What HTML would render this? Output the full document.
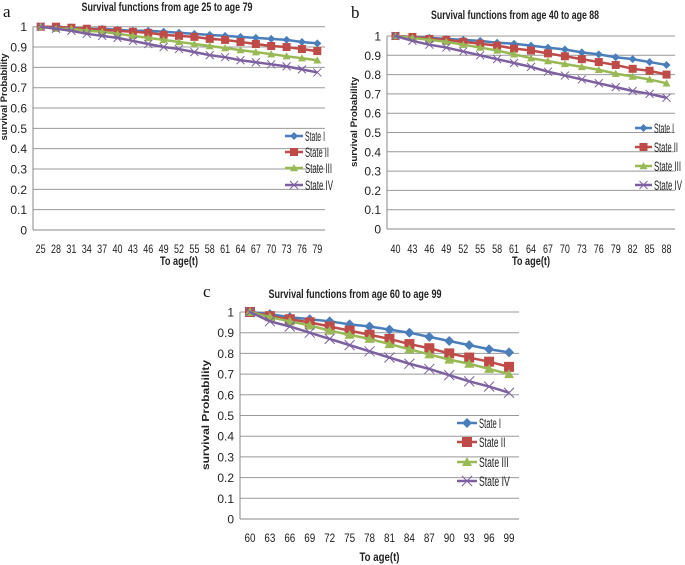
<!DOCTYPE html>
<html><head><meta charset="utf-8"><style>
html,body{margin:0;padding:0;background:#fff;}
svg{display:block;font-family:"Liberation Sans",sans-serif;}
</style></head>
<body>
<svg id="fig" width="685" height="565" viewBox="0 0 685 565"></svg>
<script>
const catsA = [25,28,31,34,37,40,43,46,49,52,55,58,61,64,67,70,73,76,79];
const a1 = [1,1,.995,.99,.99,.985,.98,.98,.975,.97,.965,.96,.955,.95,.945,.94,.935,.925,.918];
const a2 = [1,1,.995,.99,.985,.98,.975,.97,.96,.955,.95,.94,.935,.925,.915,.905,.9,.89,.88];
const a3 = [1,.99,.99,.98,.975,.965,.955,.945,.935,.925,.915,.905,.895,.885,.875,.865,.855,.845,.835];
const a4 = [1,.99,.98,.965,.955,.945,.93,.915,.9,.89,.875,.86,.85,.835,.825,.815,.805,.79,.775];
const catsB = [40,43,46,49,52,55,58,61,64,67,70,73,76,79,82,85,88];
const b1 = [1,.995,.99,.985,.98,.975,.965,.96,.95,.94,.93,.915,.905,.89,.88,.865,.85];
const b2 = [1,.995,.985,.98,.97,.96,.95,.935,.925,.91,.895,.88,.865,.85,.83,.82,.8];
const b3 = [1,.99,.98,.97,.955,.94,.925,.905,.885,.87,.855,.84,.825,.805,.79,.775,.755];
const b4 = [1,.975,.955,.94,.92,.9,.88,.86,.84,.815,.795,.775,.755,.735,.715,.7,.68];
const catsC = [60,63,66,69,72,75,78,81,84,87,90,93,96,99];
const c1 = [1,.99,.975,.965,.955,.94,.93,.915,.9,.88,.86,.84,.82,.805];
const c2 = [1,.98,.965,.95,.93,.91,.89,.87,.845,.825,.8,.78,.76,.735];
const c3 = [1,.975,.955,.935,.91,.89,.87,.845,.82,.795,.77,.75,.725,.7];
const c4 = [1,.955,.93,.9,.87,.84,.81,.78,.75,.725,.695,.665,.64,.61];
const yTicks = [0,0.1,0.2,0.3,0.4,0.5,0.6,0.7,0.8,0.9,1];
const seriesNames = ["State I","State II","State III","State IV"];
const colors = ["#4a7ebb","#be4b48","#98b954","#7d60a0"];

const NS = "http://www.w3.org/2000/svg";
const svg = document.getElementById("fig");
function mk(tag, attrs, parent){const e=document.createElementNS(NS,tag);for(const k in attrs)e.setAttribute(k,attrs[k]);(parent||svg).appendChild(e);return e;}

function marker(g, kind, x, y, col, s){
  let e;
  if(kind===0) e=mk("polygon",{points:`${x},${y-s} ${x+s},${y} ${x},${y+s} ${x-s},${y}`,fill:col},g);
  else if(kind===1) e=mk("rect",{x:x-s,y:y-s,width:2*s,height:2*s,fill:col},g);
  else if(kind===2) e=mk("polygon",{points:`${x},${y-s} ${x+s},${y+s*0.8} ${x-s},${y+s*0.8}`,fill:col},g);
  else { e=mk("path",{d:`M${x-s} ${y-s}L${x+s} ${y+s}M${x+s} ${y-s}L${x-s} ${y+s}`,stroke:col,"stroke-width":1,fill:"none"},g); }
  return e;
}
const legW = [20,24,27,28];

function chart(cfg){
  const g = mk("g",{});
  
  
  const {left,right,top,bottom,cats,series} = cfg;
  const y = v => bottom - (bottom-top)*v;
  const bw = (right-left)/cats.length;
  const x = i => left + bw*(i+0.5);
  yTicks.forEach(t=>{
    const l = mk("line",{x1:left,x2:right,y1:y(t),y2:y(t),stroke:t===0?"#888":"#999","stroke-width":1},g);
    
    
    const tx = mk("text",{x:left-6,y:y(t)+4.5,"text-anchor":"end","font-size":"12",fill:"#222"},g);
    tx.textContent = String(t);
    
    
  });
  const ax = mk("line",{x1:left,x2:left,y1:top,y2:bottom,stroke:"#888"},g);
  
  
  cats.forEach((c,i)=>{
    const t = mk("text",{x:x(i),y:cfg.tickY,"text-anchor":"middle","font-size":"12",fill:"#222",textLength:cfg.tl,lengthAdjust:"spacingAndGlyphs"},g);
    t.textContent = c;
    
    
  });
  series.forEach((s,k)=>{
    const pts = s.map((v,i)=>`${x(i)},${y(v)}`).join(" ");
    const pl = mk("polyline",{points:pts,fill:"none",stroke:colors[k],"stroke-width":2.5},g);
    
    
    s.forEach((v,i)=>{
      const m = marker(g,k,x(i),y(v),colors[k],cfg.ms);
      
      
    });
  });
  cfg.legY.forEach((ly,k)=>{
    const lg = mk("g",{},g);
    
    
    mk("line",{x1:cfg.legX,x2:cfg.legX+cfg.legW,y1:ly,y2:ly,stroke:colors[k],"stroke-width":2.5},lg);
    marker(lg,k,cfg.legX+cfg.legW/2,ly,colors[k],cfg.ms);
    const t = mk("text",{x:cfg.legX+cfg.legW+2,y:ly+5,"font-size":"13.5",fill:"#222",textLength:legW[k]*cfg.lk,lengthAdjust:"spacingAndGlyphs"},lg);
    t.textContent = seriesNames[k];
  });
  const tt = mk("text",{x:cfg.titleX,y:cfg.titleY,"text-anchor":"middle","font-size":"12","font-weight":"bold",fill:"#222",textLength:cfg.titleW,lengthAdjust:"spacingAndGlyphs"},g);
  tt.textContent = cfg.title;
  
  
  const xt = mk("text",{x:(left+right)/2,y:cfg.xtY,"text-anchor":"middle","font-size":"12","font-weight":"bold",fill:"#222",textLength:cfg.xtW,lengthAdjust:"spacingAndGlyphs"},g);
  xt.textContent = "To age(t)";
  
  
  const yt = mk("text",{x:0,y:0,"text-anchor":"middle","font-size":cfg.ytSize,"font-weight":"bold",fill:"#222",textLength:cfg.ytL,lengthAdjust:"spacingAndGlyphs",transform:`translate(${cfg.ytX},${cfg.ytY}) rotate(-90)`},g);
  yt.textContent = "survival Probability";
  
  
  const pl = mk("text",{x:cfg.pX,y:cfg.pY,"font-size":"17","font-family":"Liberation Serif, serif",fill:"#111"},g);
  pl.textContent = cfg.panel;
  
  
}

chart({name:"chart-a",left:33,right:325,top:26.7,bottom:230,cats:catsA,series:[a1,a2,a3,a4],tickY:253,xtY:265,tl:10,
  legX:285,legW:18,legY:[136,152,168,185],lk:1,title:"Survival functions from age 25 to age 79",titleX:167,titleY:11,titleW:171,xtW:38,
  ytX:7,ytY:97,ytSize:"9",ytL:87,pX:3,pY:17,panel:"a",ms:4});
chart({name:"chart-b",left:387,right:675,top:36,bottom:229,cats:catsB,series:[b1,b2,b3,b4],tickY:253,xtY:265,tl:10,
  legX:635,legW:17,legY:[128,147,166,185],lk:1,title:"Survival functions from age 40 to age 88",titleX:515,titleY:19,titleW:168,xtW:38,
  ytX:357,ytY:122,ytSize:"9",ytL:90,pX:351,pY:18,panel:"b",ms:4});
chart({name:"chart-c",left:240,right:519,top:312,bottom:519,cats:catsC,series:[c1,c2,c3,c4],tickY:542,xtY:561,tl:11,
  legX:457,legW:20,legY:[423,442,462,481],lk:1.1,title:"Survival functions from age 60 to age 99",titleX:355,titleY:298,titleW:173,xtW:40,
  ytX:209,ytY:415,ytSize:"10",ytL:110,pX:203,pY:297,panel:"c",ms:5});
</script>
</body></html>
